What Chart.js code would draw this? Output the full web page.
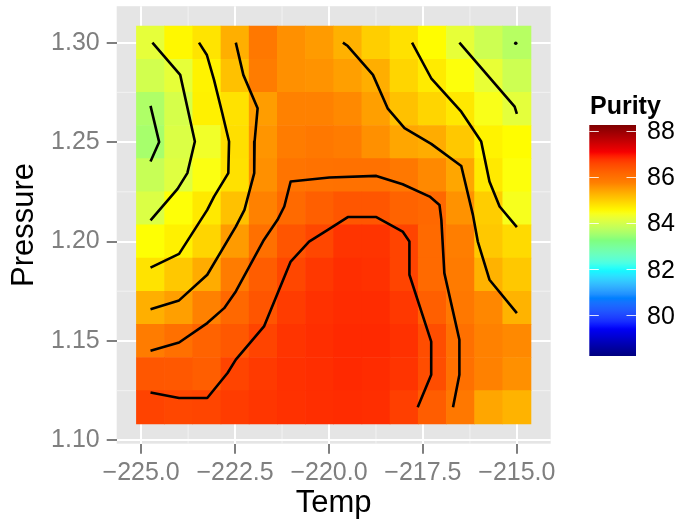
<!DOCTYPE html>
<html><head><meta charset="utf-8">
<script src="https://cdn.jsdelivr.net/npm/chart.js@4.4.0/dist/chart.umd.min.js"></script>
<style>html,body{margin:0;padding:0;background:#fff;}canvas{display:block;}</style>
</head><body>
<canvas id="c" width="680" height="523"></canvas>
<script>
// ---- data ----
const temps = [-224.75, -224.0, -223.25, -222.5, -221.75, -221.0, -220.25, -219.5, -218.75, -218.0, -217.25, -216.5, -215.75, -215.0];
const pressures = [1.3, 1.28333, 1.26667, 1.25, 1.23333, 1.21667, 1.2, 1.18333, 1.16667, 1.15, 1.13333, 1.11667];
const purityRow0  = [84.19, 84.57, 84.77, 85.30, 85.87, 85.60, 85.49, 85.28, 84.99, 84.80, 84.52, 84.21, 83.92, 83.70];
const purityRow1  = [83.97, 84.20, 84.62, 85.12, 85.80, 85.60, 85.57, 85.46, 85.31, 84.92, 84.70, 84.47, 84.22, 83.92];
const purityRow2  = [83.62, 84.02, 84.64, 84.79, 85.47, 85.73, 85.73, 85.66, 85.46, 85.12, 84.92, 84.73, 84.42, 84.17];
const purityRow3  = [83.55, 84.07, 84.33, 84.82, 85.55, 85.80, 85.87, 85.80, 85.60, 85.39, 85.33, 85.06, 84.62, 84.52];
const purityRow4  = [83.86, 84.12, 84.45, 84.80, 85.60, 85.93, 85.97, 85.99, 85.99, 85.87, 85.66, 85.39, 84.72, 84.47];
const purityRow5  = [84.07, 84.48, 84.72, 85.12, 85.73, 86.10, 86.25, 86.38, 86.38, 86.20, 86.12, 85.58, 85.00, 84.40];
const purityRow6  = [84.49, 84.64, 84.92, 85.49, 86.00, 86.40, 86.56, 86.75, 86.75, 86.60, 86.10, 85.77, 85.06, 84.87];
const purityRow7  = [84.78, 85.06, 85.33, 85.80, 86.29, 86.56, 86.72, 86.80, 86.78, 86.60, 86.10, 85.82, 85.27, 85.06];
const purityRow8  = [85.30, 85.46, 85.73, 86.13, 86.40, 86.68, 86.78, 86.82, 86.82, 86.72, 86.25, 85.87, 85.68, 85.26];
const purityRow9  = [85.80, 86.00, 86.20, 86.35, 86.60, 86.75, 86.80, 86.84, 86.84, 86.78, 86.50, 86.00, 85.73, 85.66];
const purityRow10 = [86.37, 86.35, 86.27, 86.60, 86.70, 86.78, 86.80, 86.84, 86.82, 86.75, 86.50, 86.00, 85.73, 85.60];
const purityRow11 = [86.61, 86.56, 86.59, 86.68, 86.74, 86.78, 86.80, 86.82, 86.80, 86.65, 86.29, 85.87, 85.39, 85.26];
const purity = [purityRow0, purityRow1, purityRow2, purityRow3, purityRow4, purityRow5, purityRow6, purityRow7, purityRow8, purityRow9, purityRow10, purityRow11];

const xTicks = [-225, -222.5, -220, -217.5, -215];
const yTicks = [1.10, 1.15, 1.20, 1.25, 1.30];
const legendTicks = [80, 82, 84, 86, 88];
const colorLimits = [78.24, 88.25];
const jetColors = ['#00007F', '#0000FF', '#007FFF', '#00FFFF', '#7FFF7F', '#FFFF00', '#FF7F00', '#FF0000', '#7F0000'];

// contour lines (Temp, Pressure)
const contour84a  = [[-224.75,1.2682],[-224.52,1.2500],[-224.75,1.2402]];
const contour845a = [[-224.70,1.30],[-223.96,1.2838],[-223.57,1.2503],[-223.77,1.2344],[-224.03,1.2265],[-224.75,1.2106]];
const contour85a  = [[-223.46,1.30],[-223.25,1.2938],[-223.06,1.2813],[-222.84,1.2645],[-222.66,1.2503],[-222.68,1.2344],[-223.06,1.2226],[-223.24,1.2159],[-223.99,1.1938],[-224.75,1.1869]];
const contour855a = [[-222.48,1.30],[-222.28,1.2838],[-221.90,1.2670],[-221.98,1.2503],[-221.99,1.2344],[-222.25,1.2159],[-222.48,1.2075],[-223.24,1.1833],[-223.99,1.1704],[-224.75,1.1660]];
const contour86   = [[-216.70,1.1167],[-216.53,1.1330],[-216.53,1.1506],[-216.93,1.1841],[-217.01,1.2109],[-217.06,1.2184],[-217.32,1.2226],[-218.04,1.2288],[-218.74,1.2330],[-219.99,1.2322],[-221.02,1.2302],[-221.19,1.2176],[-221.37,1.2109],[-221.73,1.2009],[-222.48,1.1749],[-222.79,1.1665],[-223.24,1.1590],[-223.99,1.1492],[-224.75,1.1451]];
const contour865  = [[-224.75,1.1241],[-223.99,1.1213],[-223.24,1.1213],[-222.70,1.1339],[-222.48,1.1406],[-221.73,1.1573],[-221.02,1.1899],[-220.53,1.2000],[-219.99,1.2064],[-219.50,1.2123],[-218.74,1.2123],[-218.04,1.2050],[-217.86,1.2000],[-217.86,1.1833],[-217.28,1.1497],[-217.28,1.1330],[-217.64,1.1167]];
const contour855b = [[-219.63,1.30],[-219.50,1.2983],[-218.83,1.2838],[-218.44,1.2670],[-217.99,1.2570],[-217.28,1.2491],[-216.48,1.2380],[-216.17,1.2134],[-216.04,1.2000],[-215.73,1.1808],[-215.00,1.1640]];
const contour85b  = [[-217.79,1.30],[-217.28,1.2821],[-216.48,1.2653],[-215.95,1.2503],[-215.73,1.2302],[-215.46,1.2176],[-215.00,1.2072]];
const contour845b = [[-216.53,1.30],[-215.06,1.2678],[-215.00,1.2642]];
const contour84b  = [[-215.03,1.2997]];

// ---- colour scale (jet, interpolated in Lab like ggplot) ----
function hexToRgb(h){return [parseInt(h.slice(1,3),16),parseInt(h.slice(3,5),16),parseInt(h.slice(5,7),16)];}
function toLin(c){c/=255;return c<=0.04045?c/12.92:Math.pow((c+0.055)/1.055,2.4);}
function toSrgb(c){c=c<=0.0031308?12.92*c:1.055*Math.pow(Math.max(c,0),1/2.4)-0.055;return Math.round(Math.max(0,Math.min(1,c))*255);}
const Xn=0.95047,Yn=1,Zn=1.08883;
function fL(t){return t>0.008856?Math.cbrt(t):7.787*t+16/116;}
function fInv(t){return t>0.206893?t*t*t:(t-16/116)/7.787;}
function rgbToLab(c){const R=toLin(c[0]),G=toLin(c[1]),B=toLin(c[2]);
  const X=0.4124*R+0.3576*G+0.1805*B,Y=0.2126*R+0.7152*G+0.0722*B,Z=0.0193*R+0.1192*G+0.9505*B;
  const fx=fL(X/Xn),fy=fL(Y/Yn),fz=fL(Z/Zn);return [116*fy-16,500*(fx-fy),200*(fy-fz)];}
function labToRgb(l){const fy=(l[0]+16)/116,fx=fy+l[1]/500,fz=fy-l[2]/200;
  const X=Xn*fInv(fx),Y=Yn*fInv(fy),Z=Zn*fInv(fz);
  return [toSrgb(3.2406*X-1.5372*Y-0.4986*Z),toSrgb(-0.9689*X+1.8758*Y+0.0415*Z),toSrgb(0.0557*X-0.2040*Y+1.0570*Z)];}
const jetLab = jetColors.map(h=>rgbToLab(hexToRgb(h)));
function colorFor(v){
  let t=(v-colorLimits[0])/(colorLimits[1]-colorLimits[0]);t=Math.max(0,Math.min(1,t));
  const n=jetLab.length-1;const i=Math.min(n-1,Math.floor(t*n));const u=t*n-i;
  const a=jetLab[i],b=jetLab[i+1];
  const c=labToRgb([a[0]+(b[0]-a[0])*u,a[1]+(b[1]-a[1])*u,a[2]+(b[2]-a[2])*u]);
  return 'rgb('+c[0]+','+c[1]+','+c[2]+')';
}

// ---- build tiles ----
const halfP = Math.abs(pressures[0]-pressures[1])/2;
const halfT = Math.abs(temps[1]-temps[0])/2;
const tileData=[], tileColors=[];
pressures.forEach((p,i)=>temps.forEach((t,j)=>{tileData.push({x:t,y:[p-halfP,p+halfP]});tileColors.push(colorFor(purity[i][j]));}));
const tMin=Math.min(...temps)-halfT, tMax=Math.max(...temps)+halfT;
const pMin=Math.min(...pressures)-halfP, pMax=Math.max(...pressures)+halfP;
const xMin=tMin-0.05*(tMax-tMin), xMax=tMax+0.05*(tMax-tMin);
const yMin=pMin-0.05*(pMax-pMin), yMax=pMax+0.05*(pMax-pMin);
const xMinor=xTicks.slice(1).map((v,i)=>(v+xTicks[i])/2);
const yMinor=yTicks.slice(1).map((v,i)=>(v+yTicks[i])/2);

const FONT="'Liberation Sans', Arial, Helvetica, sans-serif";
Chart.defaults.font.family=FONT;

function lineDs(pts){return {type:'line',data:pts.map(p=>({x:p[0],y:p[1]})),borderColor:'#000',borderWidth:2.6,
  pointRadius:0,fill:false,tension:0,borderJoinStyle:'round',order:0};}
const contours=[contour84a,contour845a,contour85a,contour855a,contour86,contour865,contour855b,contour85b,contour845b];

const panelPlugin={id:'panel',beforeDraw(chart){
  const {ctx,chartArea:a,scales:{x,y}}=chart;ctx.save();
  ctx.fillStyle='#E5E5E5';ctx.fillRect(a.left,a.top,a.right-a.left,a.bottom-a.top);
  ctx.strokeStyle='#F2F2F2';ctx.lineWidth=1;ctx.beginPath();
  xMinor.forEach(v=>{const px=x.getPixelForValue(v);ctx.moveTo(px,a.top);ctx.lineTo(px,a.bottom);});
  yMinor.forEach(v=>{const py=y.getPixelForValue(v);ctx.moveTo(a.left,py);ctx.lineTo(a.right,py);});
  ctx.stroke();ctx.restore();}};

const legendPlugin={id:'cbar',afterDraw(chart){
  const ctx=chart.ctx;const bx=589.3,bw=46.7,by=125,bh=231;
  const vy=v=>by+(colorLimits[1]-v)/(colorLimits[1]-colorLimits[0])*bh;
  ctx.save();
  const g=ctx.createLinearGradient(0,by,0,by+bh);
  for(let k=0;k<=60;k++){const v=colorLimits[1]-k/60*(colorLimits[1]-colorLimits[0]);g.addColorStop(k/60,colorFor(v));}
  ctx.fillStyle=g;ctx.fillRect(bx,by,bw,bh);
  ctx.strokeStyle='rgba(255,255,255,0.85)';ctx.lineWidth=1.2;ctx.beginPath();
  legendTicks.forEach(v=>{const yy=Math.round(vy(v))+0.5;ctx.moveTo(bx,yy);ctx.lineTo(bx+9.5,yy);ctx.moveTo(bx+bw-9.5,yy);ctx.lineTo(bx+bw,yy);});
  ctx.stroke();
  ctx.fillStyle='#000';ctx.font='25px '+FONT;ctx.textAlign='left';ctx.textBaseline='middle';
  legendTicks.forEach(v=>ctx.fillText(String(v),647,vy(v)+1.5));
  ctx.font='bold 25px '+FONT;ctx.textBaseline='alphabetic';ctx.fillText('Purity',590,114);
  ctx.restore();}};

new Chart(document.getElementById('c'),{
  type:'bar',
  data:{datasets:[
    {type:'bar',data:tileData,backgroundColor:tileColors,borderWidth:0,barPercentage:1,categoryPercentage:1,order:1},
    ...contours.map(lineDs),
    {type:'line',data:contour84b.map(p=>({x:p[0],y:p[1]})),showLine:false,pointRadius:1.8,pointBackgroundColor:'#000',pointBorderWidth:0,order:0}
  ]},
  options:{
    responsive:false,animation:false,events:[],
    layout:{padding:{left:0,right:129.3,top:6.2,bottom:0}},
    plugins:{legend:{display:false},tooltip:{enabled:false}},
    scales:{
      x:{type:'linear',min:xMin,max:xMax,offset:false,
        grid:{color:'#FFFFFF',lineWidth:2,tickColor:'#7F7F7F',tickWidth:2,tickLength:10,offset:false},
        border:{display:false},
        ticks:{color:'#7F7F7F',font:{size:25},padding:4,maxRotation:0,autoSkip:false,
          callback:v=>v.toFixed(1).replace('-','\u2212')},
        afterBuildTicks:s=>{s.ticks=xTicks.map(v=>({value:v}));},
        afterFit:s=>{s.height=79.3;s.paddingLeft=0;s.paddingRight=0;},
        title:{display:true,text:'Temp',color:'#000',font:{size:31},padding:{top:0,bottom:1.4}}},
      y:{type:'linear',min:yMin,max:yMax,beginAtZero:false,
        grid:{color:'#FFFFFF',lineWidth:2,tickColor:'#7F7F7F',tickWidth:2,tickLength:10},
        border:{display:false},
        ticks:{color:'#7F7F7F',font:{size:25},padding:7,autoSkip:false,callback:v=>v.toFixed(2)},
        afterBuildTicks:s=>{s.ticks=yTicks.map(v=>({value:v}));},
        afterFit:s=>{s.width=116.7;s.paddingTop=0;s.paddingBottom=0;},
        title:{display:true,text:'Pressure',color:'#000',font:{size:31},padding:{top:6,bottom:0}}}
    }
  },
  plugins:[panelPlugin,legendPlugin]
});
</script>
</body></html>
